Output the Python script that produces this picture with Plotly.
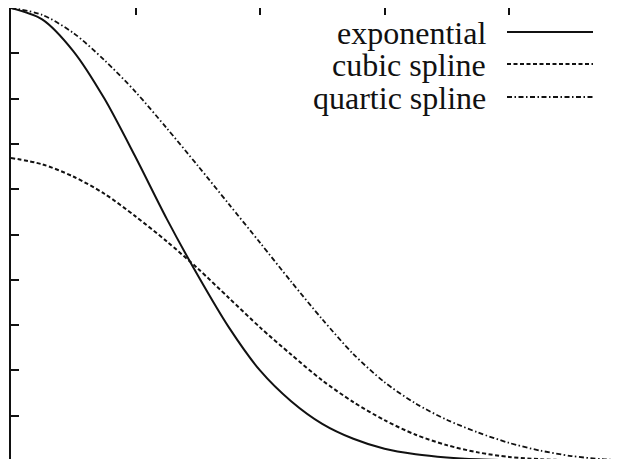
import plotly.graph_objects as go

# ---- data (x in tick units, y normalised to the top of the frame) ----
x_vals = [0.0, 0.25, 0.5, 0.75, 1.0, 1.25, 1.5, 1.75, 2.0, 2.25, 2.5,
          2.75, 3.0, 3.25, 3.5, 3.75, 4.0, 4.25, 4.5, 4.75, 5.0]
exponential = [1.0, 0.975, 0.905, 0.80, 0.671, 0.535, 0.41, 0.295, 0.20, 0.132, 0.082,
               0.049, 0.027, 0.015, 0.008, 0.004, 0.002, 0.001, 0.0005, 0.0, 0.0]
cubic_spline = [0.669, 0.655, 0.628, 0.59, 0.54, 0.485, 0.425, 0.36, 0.295, 0.235, 0.178,
                0.13, 0.09, 0.058, 0.035, 0.019, 0.009, 0.004, 0.0015, 0.0005, 0.0]
quartic_spline = [1.0, 0.985, 0.945, 0.885, 0.815, 0.735, 0.652, 0.567, 0.482, 0.396, 0.313,
                  0.236, 0.174, 0.127, 0.091, 0.063, 0.040, 0.023, 0.011, 0.004, 0.001]

labels = ["exponential", "cubic spline", "quartic spline"]
x_ticks = [1, 2, 3, 4]
y_ticks = [0.1, 0.2, 0.3, 0.4, 0.5, 0.6, 0.7, 0.8, 0.9]

dashes = ["solid", "4px,2.5px", "5px,2.5px,1.5px,2.5px"]
widths = [2, 2, 1.8]
series = [exponential, cubic_spline, quartic_spline]

INK = "#111111"
W, H = 623, 459
BODY = 8                       # default page margin around the plot div
ML, MT = 11 - BODY, 8 - BODY   # so the frame lands at page x=11, y=8
PLOT_W, PLOT_H = W - ML, H - MT
X_RANGE = [0, PLOT_W / 124.5]
Y_RANGE = [1.0 - PLOT_H / 453.0, 1.0]

fig = go.Figure()
for ys, name, d, w in zip(series, labels, dashes, widths):
    fig.add_trace(go.Scatter(
        x=x_vals, y=ys, mode="lines", name=name, showlegend=False,
        line=dict(color=INK, width=w, dash=d, shape="spline", smoothing=0.8),
        hoverinfo="skip",
    ))

# invisible trace to anchor the top axis
fig.add_trace(go.Scatter(x=[X_RANGE[0]], y=[Y_RANGE[0]], xaxis="x2", mode="markers",
                         marker=dict(opacity=0), showlegend=False, hoverinfo="skip"))

def px2paper_x(px):
    return (px - 11) / PLOT_W

def py2paper_y(py):
    return 1 - (py - 8) / PLOT_H

# legend drawn gnuplot style: text right-aligned, line sample to the right
rows_y = [32, 64, 97]
for name, d, w, py in zip(labels, dashes, widths, rows_y):
    yp = py2paper_y(py)
    fig.add_annotation(x=px2paper_x(488), y=py2paper_y(py + 1), xref="paper", yref="paper",
                       text=name, showarrow=False, xanchor="right", yanchor="middle",
                       font=dict(family="Liberation Serif", size=32, color=INK))
    fig.add_shape(type="line", xref="paper", yref="paper",
                  x0=px2paper_x(507), x1=px2paper_x(593), y0=yp, y1=yp,
                  line=dict(color=INK, width=w, dash=d))

fig.update_layout(
    width=W, height=H,
    margin=dict(l=ML, r=0, t=MT, b=0, pad=0, autoexpand=False),
    paper_bgcolor="white", plot_bgcolor="white",
    xaxis=dict(range=X_RANGE, showgrid=False, zeroline=False, showline=False,
               ticks="inside", ticklen=7, tickwidth=1.5, tickcolor=INK,
               tickvals=x_ticks, showticklabels=False),
    xaxis2=dict(range=X_RANGE, overlaying="x", side="top", showgrid=False, zeroline=False,
                showline=True, linewidth=2, linecolor=INK,
                ticks="inside", ticklen=7, tickwidth=1.5, tickcolor=INK,
                tickvals=x_ticks, showticklabels=False),
    yaxis=dict(range=Y_RANGE, showgrid=False, zeroline=False, showline=True,
               linewidth=2, linecolor=INK, ticks="inside", ticklen=8, tickwidth=1.5,
               tickcolor=INK, tickvals=y_ticks, showticklabels=False),
)

fig.write_html("out.html")
